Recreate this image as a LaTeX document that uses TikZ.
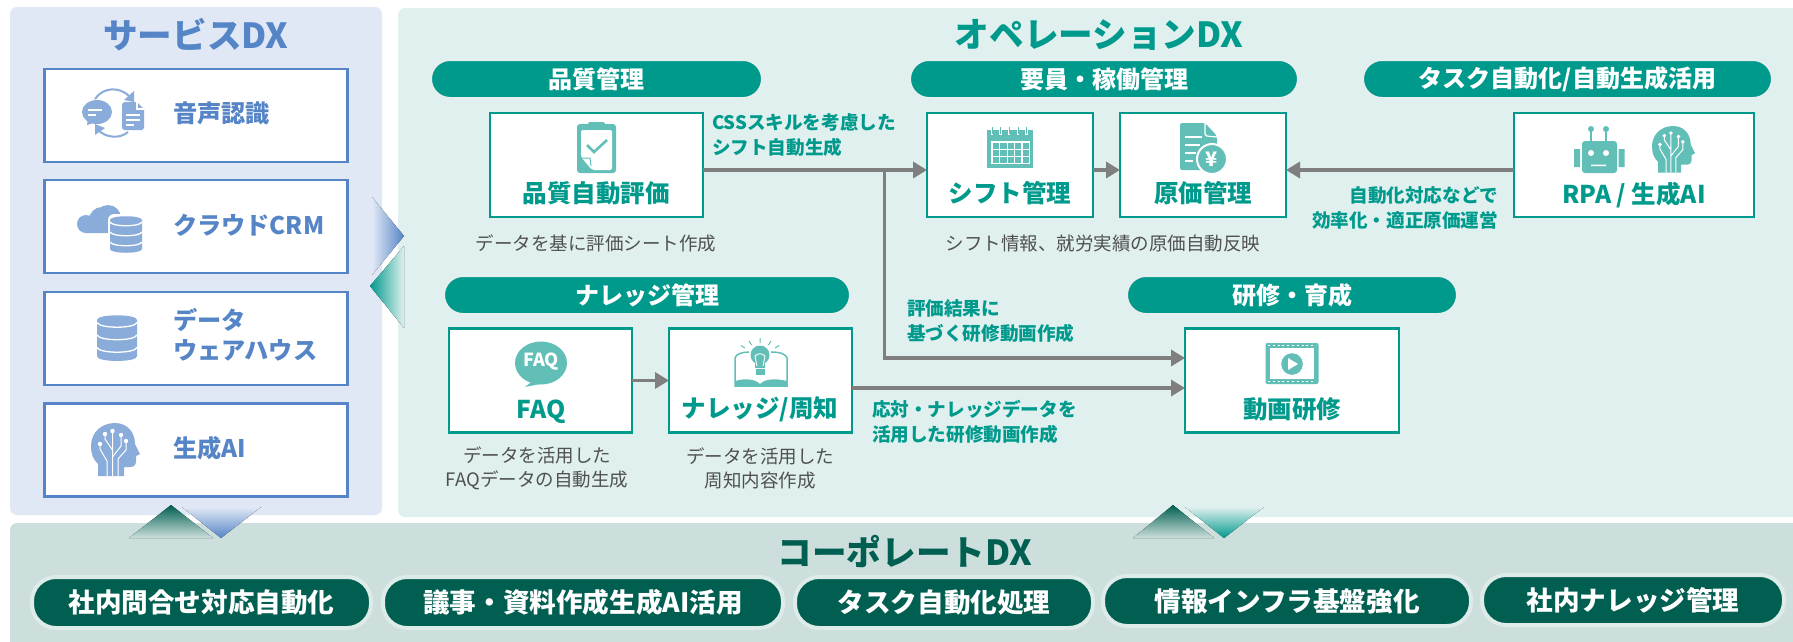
\documentclass[tikz,border=0pt]{standalone}
\usepackage{fontspec}
\setmainfont{Noto Sans CJK JP}
\usetikzlibrary{arrows.meta}
\definecolor{svpanel}{HTML}{E0E8F5}
\definecolor{oppanel}{HTML}{DFF0EF}
\definecolor{copanel}{HTML}{CCDFDC}
\definecolor{svblue}{HTML}{5585C6}
\definecolor{svicon}{HTML}{8AACDA}
\definecolor{opteal}{HTML}{009A8D}
\definecolor{opicon}{HTML}{62BFB8}
\definecolor{codark}{HTML}{005F50}
\definecolor{cohalo}{HTML}{DDEBE9}
\definecolor{ophalo}{HTML}{E6EEEE}
\definecolor{flowgray}{HTML}{7F7F7F}
\definecolor{notegray}{HTML}{505050}
\tikzset{
	every node/.style={inner sep=0pt, outer sep=0pt},
	svbox/.style={draw=svblue, line width=2.5pt, fill=white, minimum width=303pt, minimum height=93pt},
	svtext/.style={anchor=west, align=left, text=svblue, font=\fontsize{24.2}{30}\selectfont\bfseries},
	opbox/.style={draw=opteal, line width=2.5pt, fill=white, minimum height=104pt},
	optext/.style={text=opteal, font=\fontsize{24.5}{28}\selectfont\bfseries},
	secpill/.style={draw=ophalo, line width=2pt, fill=opteal, text=white, rounded corners=19pt, minimum height=38pt, font=\fontsize{24}{28}\selectfont\bfseries},
	copill/.style={draw=cohalo, line width=4pt, fill=codark, text=white, rounded corners=24pt, minimum height=51pt, font=\fontsize{26.6}{30}\selectfont\bfseries},
	flownote/.style={align=left, text=opteal, font=\fontsize{18.6}{25}\selectfont\bfseries},
	graynote/.style={align=center, text=notegray, font=\fontsize{18.5}{24}\selectfont},
	flowline/.style={draw=flowgray, line width=3.5pt, -{Triangle[length=14pt,width=16pt]}},
	dxtitle/.style={font=\fontsize{34.6}{38}\selectfont\bfseries},
	pics/dbico/.style={code={
		\fill[#1] (0,4) .. controls (0,-1) and (32,-1) .. (32,4) -- (32,33) .. controls (32,38) and (0,38) .. (0,33) -- cycle;
		\draw[white, line width=1.3pt] (0,6) .. controls (2,11) and (30,11) .. (32,6) (0,16) .. controls (2,21) and (30,21) .. (32,16) (0,26) .. controls (2,31) and (30,31) .. (32,26);
	}},
	pics/headico/.style={code={
		\fill[#1] (7,53) -- (7,41) .. controls (2,36) and (0,31) .. (0,23) .. controls (0,9) and (11,0) .. (24,0) .. controls (36,0) and (44,9) .. (44,21) -- (49,31) -- (45,33) -- (45,38) .. controls (45,42) and (43,44) .. (39,44) -- (33,44) -- (33,53) -- cycle;
		\draw[white, line width=1pt] (16,53) -- (16,38) -- (9,26) -- (9,21) (21.5,53) -- (21.5,8) (21.5,27) -- (14,16) -- (14,11) (27,53) -- (27,36) -- (35,27) -- (35,18) (21.5,34) -- (30,23) -- (30,12);
		\foreach \dx/\dy in {14/11,21.5/8,30/12,35/18,9/21} \fill[white] (\dx,\dy) circle[radius=2.2pt];
	}},
}
\begin{document}
\begin{tikzpicture}[x=1pt, y=-1pt]
	\useasboundingbox (0,0) rectangle (1793,641);
	\fill[white] (0,0) rectangle (1793,641);
	\fill[svpanel, rounded corners=7pt] (10,7) rectangle (382,515);
	\fill[oppanel, rounded corners=7pt] (398,8) rectangle (1810,517);
	\fill[copanel, rounded corners=7pt] (10,523) rectangle (1810,650);

	\fill[left color=svpanel, right color=svblue] (372,197) -- (404,236) -- (372,275) -- cycle;
	\fill[left color=opteal, right color=oppanel] (370,286) -- (404,246) -- (404,328) -- cycle;
	\fill[top color=codark, bottom color=copanel] (171,505) -- (213,538) -- (129,538) -- cycle;
	\fill[top color=svpanel, bottom color=svblue] (182,507) -- (261,507) -- (221,538) -- cycle;
	\fill[top color=codark, bottom color=copanel] (1173,505) -- (1214,538) -- (1133,538) -- cycle;
	\fill[top color=oppanel, bottom color=opteal] (1185,507) -- (1264,507) -- (1224,538) -- cycle;

	\node[dxtitle, text=svblue] (svtitle) at (196,35) {サービスDX};
	\node[dxtitle, text=opteal] (optitle) at (1099,35) {オペレーションDX};
	\node[dxtitle, text=codark] (cotitle) at (905,551) {コーポレートDX};

	\node foreach \n/\y in {voice/115.5, crm/226.5, dwh/338.5, genai/450} [svbox] (\n) at (196,\y) {};
	\node[svtext] (voicetext) at (173,113) {音声認識};
	\node[svtext] (crmtext) at (173,225) {クラウドCRM};
	\node[svtext] (dwhtext) at (173,335) {データ\\ウェアハウス};
	\node[svtext] (genaitext) at (173,448) {生成AI};

	\node[secpill, minimum width=331pt] (secqual) at (596.5,79) {品質管理};
	\node[secpill, minimum width=388pt] (secstaff) at (1104,79) {要員・稼働管理};
	\node[secpill, minimum width=409pt] (sectask) at (1567.5,79) {タスク自動化/自動生成活用};
	\node[secpill, minimum width=406pt] (secknow) at (647,295) {ナレッジ管理};
	\node[secpill, minimum width=330pt] (sectrain) at (1292,295) {研修・育成};

	\node[opbox, minimum width=213pt] (qual) at (596.5,165) {};
	\node[opbox, minimum width=166pt] (shiftm) at (1010,165) {};
	\node[opbox, minimum width=166pt] (cost) at (1203,165) {};
	\node[opbox, minimum width=240pt] (rpa) at (1634,165) {};
	\node[opbox, minimum width=183pt] (faq) at (540.5,380.5) {};
	\node[opbox, minimum width=183pt] (know) at (760.5,380.5) {};
	\node[opbox, minimum width=214pt] (movie) at (1292,380.5) {};
	\node[optext] (qualtext) at (596,193) {品質自動評価};
	\node[optext] (shifttext) at (1010,193) {シフト管理};
	\node[optext] (costtext) at (1203,193) {原価管理};
	\node[optext] (rpatext) at (1634,195) {RPA / 生成AI};
	\node[optext] (faqtext) at (541,412) {FAQ};
	\node[optext] (knowtext) at (760,409) {ナレッジ/周知};
	\node[optext] (movietext) at (1292,409) {動画研修};

	\coordinate (branch) at (884.5,170);
	\draw[flowline] ([yshift=-5pt]qual.east) -- ([yshift=-5pt]shiftm.west);
	\draw[flowline] (branch) |- ([yshift=22.5pt]movie.west);
	\draw[flowline] ([yshift=-5pt]shiftm.east) -- ([yshift=-5pt]cost.west);
	\draw[flowline] ([yshift=-5pt]rpa.west) -- ([yshift=-5pt]cost.east);
	\draw[flowline] (faq.east) -- (know.west);
	\draw[flowline] ([yshift=-7.5pt]know.east) -- ([yshift=-7.5pt]movie.west);

	\node[flownote, anchor=north west] (cssnote) at (712,114) {CSSスキルを考慮した\\シフト自動生成};
	\node[flownote, anchor=west] (evalnote) at (907,321) {評価結果に\\基づく研修動画作成};
	\node[flownote, anchor=west] (usenote) at (872,421.5) {応対・ナレッジデータを\\活用した研修動画作成};
	\node[flownote, anchor=east, align=right] (effnote) at (1498,208) {自動化対応などで\\効率化・適正原価運営};

	\node[graynote] (qualnote) at (596,243) {データを基に評価シート作成};
	\node[graynote] (shiftnote) at (1103,243) {シフト情報、就労実績の原価自動反映};
	\node[graynote] (faqnote) at (537,468) {データを活用した\\FAQデータの自動生成};
	\node[graynote] (knownote) at (760,468) {データを活用した\\周知内容作成};

	\node[copill, minimum width=339pt] (cochat) at (201.5,602.5) {社内問合せ対応自動化};
	\node[copill, minimum width=400pt] (codoc) at (583,602.5) {議事・資料作成生成AI活用};
	\node[copill, minimum width=298pt] (cotask) at (944,602.5) {タスク自動化処理};
	\node[copill, minimum width=368pt, minimum height=50pt] (coinfra) at (1287,601) {情報インフラ基盤強化};
	\node[copill, minimum width=302pt, minimum height=50pt] (coknow) at (1633,600) {社内ナレッジ管理};

	% service icons
	\fill[svicon] (97,112) ellipse[x radius=15pt, y radius=12pt];
	\fill[svicon] (88,118) -- (87,125) -- (96,122) -- cycle;
	\draw[white, line width=1.2pt] (88,110) -- (102,110) (88,115) -- (96,115);
	\fill[svicon] (122,104) -- (124,102) -- (137,102) -- (144,109) -- (144,128) -- (142,130) -- (124,130) -- (122,128) -- cycle;
	\draw[white, line width=1.2pt] (137,102) -- (137,109) -- (144,109) (126,115) -- (140,115) (126,120) -- (140,120) (126,125) -- (134,125);
	\draw[svicon, line width=2pt] (95,99) .. controls (103,87) and (120,86) .. (130,97);
	\fill[svicon] (134,91) -- (134,102) -- (124,100) -- cycle;
	\draw[svicon, line width=2pt] (128,132) .. controls (120,139) and (106,138) .. (98,130);
	\fill[svicon] (95,135) -- (95,124) -- (105,128) -- cycle;

	\fill[svicon] (86,224) circle[radius=9pt] (102,220) circle[radius=13pt] (108,218) circle[radius=13pt] (86,221) rectangle (112,233);
	\fill[white, rounded corners=6pt] (108,214) rectangle (144,255);
	\pic at (110,216) {dbico=svicon};
	\pic[scale=1.25] at (97,315) {dbico=svicon};
	\pic at (91,423) {headico=svicon};

	% operation icons
	\fill[opicon, rounded corners=3pt] (577,124) rectangle (616,173);
	\fill[opicon, rounded corners=2pt] (588,122) rectangle (605,130);
	\fill[white, rounded corners=2pt] (581,130) -- (612,130) -- (612,170) -- (592,170) -- (581,157) -- cycle;
	\draw[opicon, line width=2.6pt] (587,145) -- (594,152) -- (607,140);
	\draw[opicon, line width=1pt] (582,158) -- (590,158) .. controls (591,162) .. (591,166);

	\fill[opicon] (987,130) rectangle (1033,168);
	\fill[white] (991,141) rectangle (1030,164);
	\foreach \cx in {0,1,2,3,4} \foreach \cy in {0,1,2} \fill[opicon] (993+\cx*7.4,143+\cy*6.9) rectangle ++(6.2,5.7);
	\foreach \rx in {992,1000.5,1009,1018,1026.5} {
		\draw[white, line width=2.4pt] (\rx,130) -- (\rx,135);
		\draw[opicon, line width=1pt] (\rx,127) -- (\rx,134);
	}

	\fill[opicon, rounded corners=2pt] (1180,123) -- (1205,123) -- (1217,136) -- (1217,170) -- (1180,170) -- cycle;
	\draw[white, line width=1.2pt] (1205,123) -- (1205,134) .. controls (1205,136) .. (1217,137);
	\draw[white, line width=1.5pt] (1185,137) -- (1202,137) (1185,145) -- (1200,145) (1185,153) -- (1196,153) (1185,161) -- (1193,161);
	\fill[opicon, draw=white, line width=2pt] (1212,159) circle[radius=15pt];
	\node[text=white, font=\fontsize{20}{22}\selectfont\bfseries] (yen) at (1212,159) {¥};

	\fill[opicon, rounded corners=3pt] (1582,141) rectangle (1617,173);
	\fill[opicon] (1574,149) rectangle (1580,167) (1618.5,149) rectangle (1624.5,167);
	\draw[opicon, line width=1.2pt] (1591,129) -- (1591,141) (1606,129) -- (1606,141);
	\fill[opicon] (1591,129) circle[radius=3pt] (1606,129) circle[radius=3pt];
	\fill[white] (1591,153) circle[radius=3pt] (1606,153) circle[radius=3pt] (1591,164.5) rectangle (1606,166);
	\pic[scale=.88] at (1652,126) {headico=opicon};

	\fill[opicon] (541,363) ellipse[x radius=26pt, y radius=21.5pt];
	\fill[opicon] (534,380) -- (525,387) -- (550,382) -- cycle;
	\node[text=white, font=\fontsize{18}{20}\selectfont\bfseries] (faqmark) at (541,362) {FAQ};

	\draw[opicon, line width=1.5pt] (749,352) .. controls (742,352) and (736,354) .. (735,358) -- (735,386) -- (787,386) -- (787,358) .. controls (786,354) and (780,352) .. (771,352);
	\fill[opicon] (735,386) -- (735,381) .. controls (745,378) and (755,379) .. (760,384) .. controls (765,379) and (775,378) .. (787,381) -- (787,386) -- cycle;
	\fill[opicon] (760,355) circle[radius=9.5pt] (755,362) rectangle (765,368);
	\fill[opicon] (755.5,369) rectangle (764.5,375);
	\draw[white, line width=.9pt] (757,366) -- (755,356) (763,366) -- (765,356) (755,356) .. controls (758,353) and (762,353) .. (765,356);
	\draw[opicon, line width=1pt] (760,338) -- (760,343) (749,341) -- (751.5,345) (771,341) -- (768.5,345) (741,345.5) -- (745,348) (779,345.5) -- (775,348);

	\fill[opicon, rounded corners=2pt] (1265.5,343) rectangle (1318.5,384);
	\fill[white] (1270,348) rectangle (1314,379);
	\draw[white, line width=1.5pt, dash pattern=on 2pt off 2.8pt] (1268,345.5) -- (1316,345.5) (1268,381.5) -- (1316,381.5);
	\fill[opicon] (1292,364) circle[radius=10.8pt];
	\fill[white] (1288,358) -- (1298,364) -- (1288,370) -- cycle;
\end{tikzpicture}
\end{document}
